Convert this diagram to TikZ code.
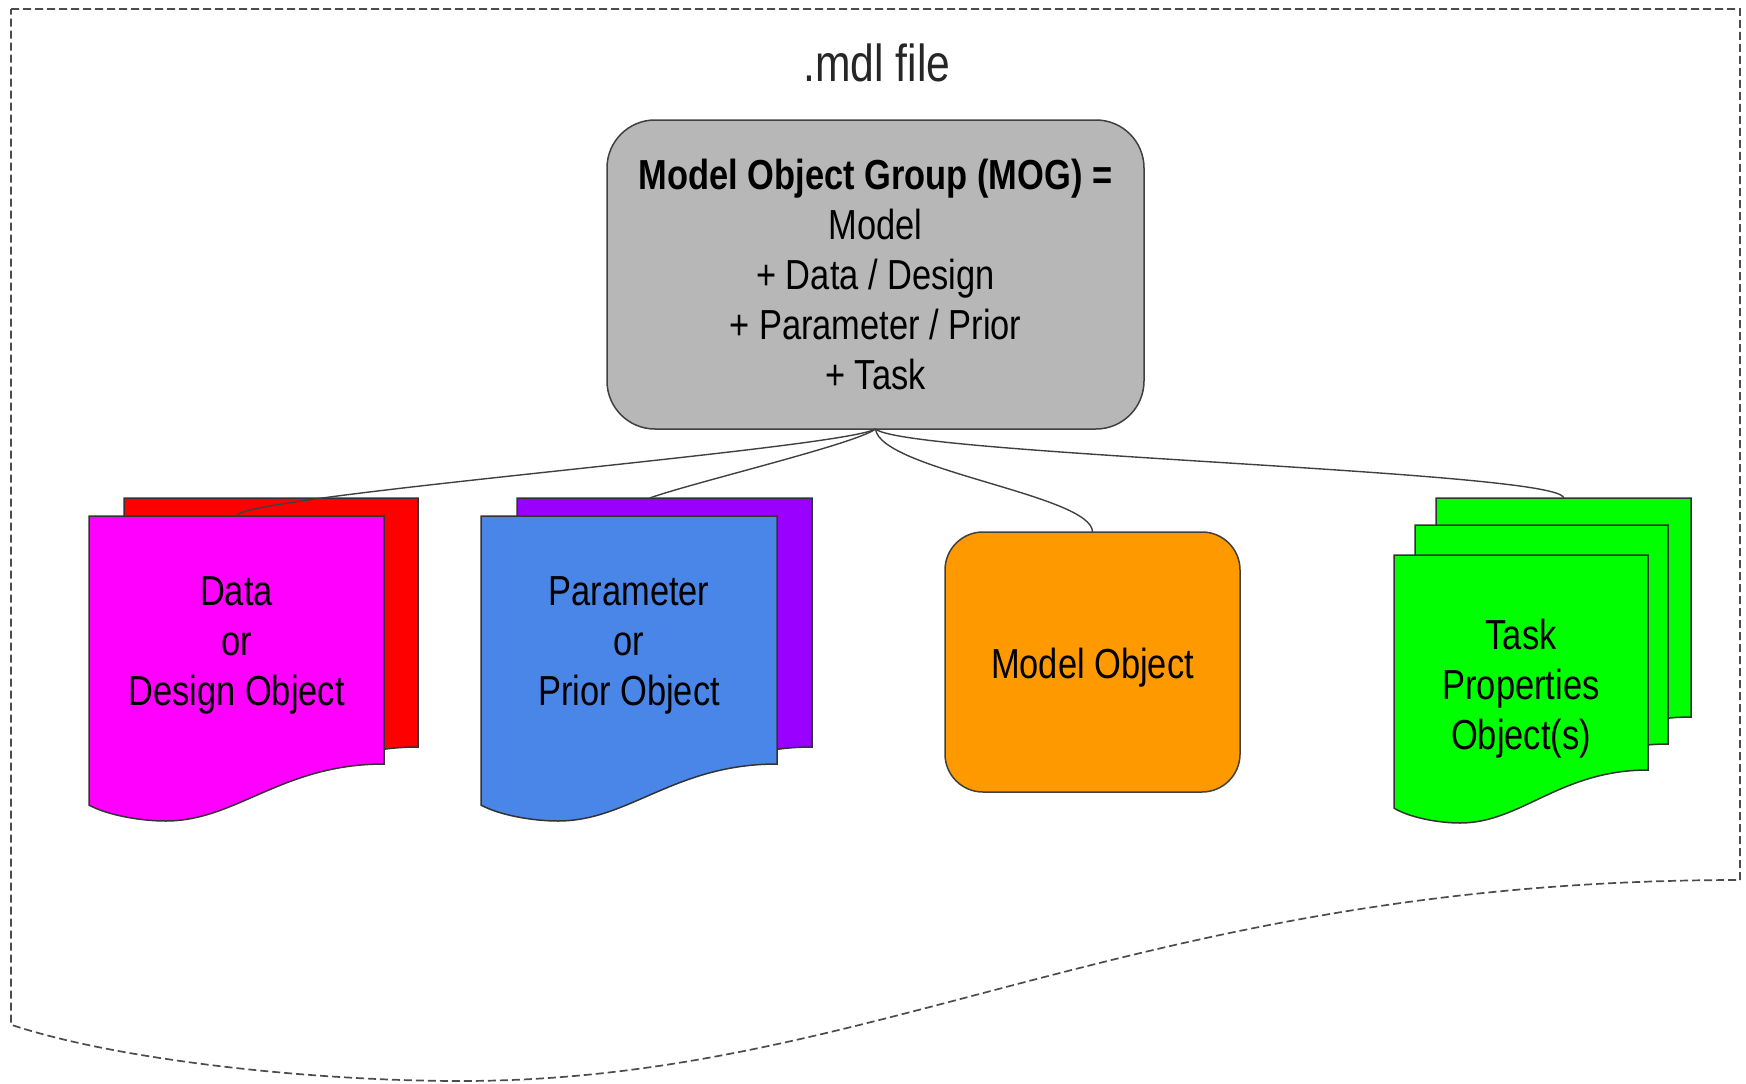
\documentclass[tikz,border=0pt]{standalone}
\usepackage{fontspec}
\setmainfont{Liberation Sans}[FakeStretch=0.82]
\usetikzlibrary{calc}

\definecolor{mogGray}{HTML}{B7B7B7}
\definecolor{modelOrange}{HTML}{FF9900}
\definecolor{dataRed}{HTML}{FF0000}
\definecolor{dataMagenta}{HTML}{FF00FF}
\definecolor{paramPurple}{HTML}{9900FF}
\definecolor{paramBlue}{HTML}{4A86E8}
\definecolor{taskGreen}{HTML}{00FF00}

% Document outline: straight top and sides, wavy bottom edge.
% #1 style, #2 left x, #3 top y, #4 width, #5 height of the right edge, #6 wave depth
\newcommand\docsheet[6]{%
  \path[#1] (#2,#3) -- ({#2+#4},#3) -- ({#2+#4},{#3+#5})
    .. controls ({#2+0.653*#4},{#3+#5}) and ({#2+0.5*#4},{#3+#5+#6}) .. ({#2+0.26*#4},{#3+#5+#6})
    .. controls ({#2+0.176*#4},{#3+#5+#6}) and ({#2+0.063*#4},{#3+#5+0.9*#6}) .. (#2,{#3+#5+0.72*#6})
    -- cycle;}

\begin{document}
\begin{tikzpicture}[x=1pt, y=-1pt,
  sheetline/.style={draw=black!80, line width=1.5pt, line join=miter},
  sheetbox/.style={draw=none, inner sep=0pt, outer sep=0pt, anchor=north west},
  txt/.style={font=\fontsize{42}{50}\selectfont, align=center, inner sep=0pt, text=black},
  roundbox/.style={draw=black!75, line width=1.5pt, inner sep=0pt, outer sep=0pt},
  link/.style={draw=black!75, line width=1.4pt},
  frame/.style={draw=black!70, line width=1.7pt, dash pattern=on 8pt off 4pt}]

\useasboundingbox (0,0) rectangle (1746,1084);

% dashed file outline
\docsheet{frame}{11}{9}{1729}{871}{201}
\node[font=\fontsize{52}{60}\selectfont, text=black!85, inner sep=0pt] (title) at (877,63) {.mdl file};

% model object group
\node[roundbox, txt, rounded corners=48pt, fill=mogGray,
      minimum width=537, minimum height=309] (mog) at (875.5,274.5)
  {\textbf{Model Object Group (MOG) =}\\Model\\+ Data / Design\\+ Parameter / Prior\\+ Task};

% data / design objects
\docsheet{sheetline,fill=dataRed}{124}{498}{294}{249}{57}
\node[sheetbox, minimum width=294, minimum height=249] (dataBack) at (124,498) {};
\docsheet{sheetline,fill=dataMagenta}{89}{516}{295}{248}{57}
\node[sheetbox, minimum width=295, minimum height=248] (data) at (89,516) {};
\node[txt] (dataText) at (236.5,645.5) {Data\\or\\Design Object};

% parameter / prior objects
\docsheet{sheetline,fill=paramPurple}{517}{498}{295}{249}{57}
\node[sheetbox, minimum width=295, minimum height=249] (paramBack) at (517,498) {};
\docsheet{sheetline,fill=paramBlue}{481}{516}{296}{248}{57}
\node[sheetbox, minimum width=296, minimum height=248] (param) at (481,516) {};
\node[txt] (paramText) at (629,645) {Parameter\\or\\Prior Object};

% model object
\node[roundbox, rounded corners=38pt, fill=modelOrange,
      minimum width=295, minimum height=260] (model) at (1092.5,662) {};
\node[txt] (modelText) at (1092.5,668) {Model Object};

% task properties objects
\docsheet{sheetline,fill=taskGreen}{1436}{498}{255}{219}{50}
\node[sheetbox, minimum width=255, minimum height=219] (taskBack) at (1436,498) {};
\docsheet{sheetline,fill=taskGreen}{1415}{525}{253}{219}{50}
\node[sheetbox, minimum width=253, minimum height=219] (taskMid) at (1415,525) {};
\docsheet{sheetline,fill=taskGreen}{1394}{555}{254}{215}{53}
\node[sheetbox, minimum width=254, minimum height=215] (task) at (1394,555) {};
\node[txt] (taskText) at (1521,689) {Task\\Properties\\Object(s)};

% connectors
\coordinate (paramTop) at ($(paramBack.north west)!0.45!(paramBack.north east)$);
\draw[link] (mog.south) .. controls +(-35,20) and +(0,-20) .. (data.north);
\draw[link] (mog.south) .. controls +(-20,15) and +(45,-16) .. (paramTop);
\draw[link] (mog.south) .. controls +(5,41) and +(0,-37) .. (model.north);
\draw[link] (mog.south) .. controls +(30,26) and +(0,-27) .. (taskBack.north);
\end{tikzpicture}
\end{document}
